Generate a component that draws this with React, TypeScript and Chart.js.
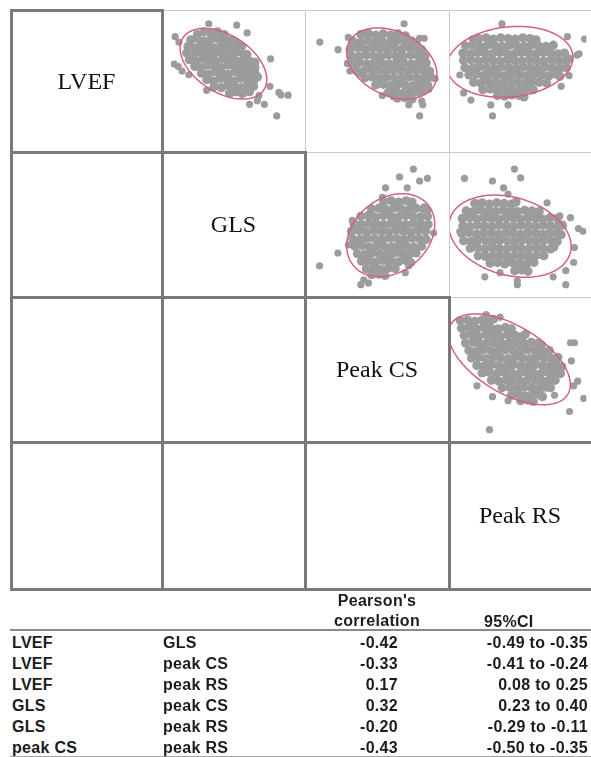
import React, { useEffect, useRef } from "react";
import { Chart, registerables } from "chart.js";
Chart.register(...registerables);

type Pt = [number, number];

// ---------- diagonal variable names ----------
const variableNames = ["LVEF", "GLS", "Peak CS", "Peak RS"];

// ---------- scatter data (standardised units, 0-100 per panel) ----------
const lvefVsGlsCore: Pt[] = [
  [23,85],[28,87],[33,86],[38,87],[43,85],
  [18,81],[23,82],[28,80],[33,81],[38,82],[43,80],[48,81],[52,79],
  [16,76],[21,75],[26,77],[31,76],[36,75],[41,77],[46,76],[51,75],[56,76],
  [15,71],[20,70],[25,72],[30,71],[35,70],[40,72],[45,71],[50,70],[55,72],[60,70],
  [17,66],[22,65],[27,67],[32,66],[37,65],[42,67],[47,66],[52,65],[57,66],[62,65],[66,64],
  [21,61],[26,60],[31,62],[36,61],[41,60],[46,62],[51,61],[56,60],[61,61],[66,60],
  [26,56],[31,55],[36,57],[41,56],[46,55],[51,57],[56,56],[61,55],[66,56],
  [30,51],[35,50],[40,52],[45,51],[50,50],[55,52],[60,51],[65,50],[68,53],
  [36,46],[41,45],[46,47],[51,46],[56,45],[61,47],[65,46],
  [47,41],[52,42],[57,41],[62,42]
];
const lvefVsGlsOut: Pt[] = [
  [6.4,83.4],[9.2,79.3],[31.5,93.1],[52.4,92],[60.2,86.2],[5.7,62.8],[8.7,60.9],[11.5,57.5],
  [16.6,54.7],[29.9,43],[34.5,44.8],[77.7,66.7],[77.2,46],[69,39],[67.8,35.2],[62,32.4],
  [73.1,32.4],[83.9,41.4],[85.5,39.5],[90.8,39.3],[82.3,23.7],[56.3,39.8],[48.3,40.7]
];

const lvefVsPeakCSCore: Pt[] = [
  [38,85],[43.5,86],[49,84.5],[54.5,85.5],[60,84.5],[65.5,85.5],[71,84],
  [32,80],[37.5,79],[43,80.5],[48.5,79.5],[54,80],[59.5,79],[65,80.5],[70.5,79.5],[76,80],[79,78],
  [30,74],[35.5,75],[41,74],[46.5,75],[52,74.5],[57.5,74],[63,75],[68.5,74],[74,75],[79.5,74.5],[83,73.5],
  [31,69],[36.5,68.5],[42,69.5],[47.5,69],[53,68.5],[58.5,69.5],[64,69],[69.5,68.5],[75,69.5],[80.5,69],[85.5,68.5],
  [31.5,63.5],[37,64],[42.5,63],[48,64],[53.5,63.5],[59,63],[64.5,64],[70,63.5],[75.5,63],[81,64],[86.5,63.5],
  [34.5,58],[40,57.5],[45.5,58.5],[51,58],[56.5,57.5],[62,58.5],[67.5,58],[73,57.5],[78.5,58.5],[84,58],[89,57.5],
  [41,52.5],[46.5,53],[52,52],[57.5,53],[63,52.5],[68.5,52],[74,53],[79.5,52.5],[85,52],[90,53],
  [49,47],[54.5,47.5],[60,46.5],[65.5,47.5],[71,47],[76.5,46.5],[82,47.5],[87.5,47],
  [58.5,41.5],[64,42],[69.5,41],[75,42],[80.5,41.5],[84,42.5],
  [65,37],[70.5,37.5],[76,36.5]
];
const lvefVsPeakCSOut: Pt[] = [
  [7.6,79.3],[21.1,73.6],[28,63.2],[29.9,57.5],[36.8,55.2],[70.1,93.1],[81.6,82.1],[85,82.1],
  [93.1,51.7],[88.5,43.7],[73.6,32.2],[83.2,34.9],[83.9,32.2],[81.6,23.7],[54,39.1],[62,38.4],[28.7,82.8]
];

const lvefVsPeakRSCore: Pt[] = [
  [19,82],[24.5,82.5],[30,81.5],[35.5,82.5],[41,82],[46.5,81.5],[52,82.5],[57.5,82],[62,81],
  [9,76.5],[14.5,77],[20,76],[25.5,77],[31,76.5],[36.5,76],[42,77],[47.5,76.5],[53,76],[58.5,77],[64,76.5],[69.5,76],[75,77],
  [7,71],[12.5,70.5],[18,71.5],[23.5,71],[29,70.5],[34.5,71.5],[40,71],[45.5,70.5],[51,71.5],[56.5,71],[62,70.5],[67.5,71.5],[73,71],[78.5,70.5],[83.5,71],
  [7.5,65.5],[13,66],[18.5,65],[24,66],[29.5,65.5],[35,65],[40.5,66],[46,65.5],[51.5,65],[57,66],[62.5,65.5],[68,65],[73.5,66],[79,65.5],[84.5,65],[87,66.5],
  [8.5,60],[14,59.5],[19.5,60.5],[25,60],[30.5,59.5],[36,60.5],[41.5,60],[47,59.5],[52.5,60.5],[58,60],[63.5,59.5],[69,60.5],[74.5,60],[80,59.5],[85,60],
  [11.5,54.5],[17,55],[22.5,54],[28,55],[33.5,54.5],[39,54],[44.5,55],[50,54.5],[55.5,54],[61,55],[66.5,54.5],[72,54],[77.5,55],[80,53.5],
  [15,49],[20.5,48.5],[26,49.5],[31.5,49],[37,48.5],[42.5,49.5],[48,49],[53.5,48.5],[59,49.5],[64.5,49],[70,48.5],
  [22,43.5],[27.5,44],[33,43],[38.5,44],[44,43.5],[49.5,43],[55,44],[60,43.5],
  [33,39],[38.5,38.5],[44,39.5],[49.5,39],[53,38]
];
const lvefVsPeakRSOut: Pt[] = [
  [36.4,93],[85.7,83.4],[98.6,81.6],[93,69.5],[94.5,70.5],[4.7,54.5],[13,35.6],[28,32],
  [41,32],[29.3,23.7],[81,46],[87,54],[7.5,41],[14,81.6]
];

const glsVsPeakCSCore: Pt[] = [
  [55,67],[60.5,67.5],[66,66.5],[71.5,67.5],[76,66.5],
  [46,61.5],[51.5,62],[57,61],[62.5,62],[68,61.5],[73.5,61],[79,62],[84.5,61.5],[87,60.5],
  [38,56],[43.5,56.5],[49,55.5],[54.5,56.5],[60,56],[65.5,55.5],[71,56.5],[76.5,56],[82,55.5],[87.5,56],
  [33,50.5],[38.5,50],[44,51],[49.5,50.5],[55,50],[60.5,51],[66,50.5],[71.5,50],[77,51],[82.5,50.5],[88,50],
  [31,45],[36.5,45.5],[42,44.5],[47.5,45.5],[53,45],[58.5,44.5],[64,45.5],[69.5,45],[75,44.5],[80.5,45.5],[86,45],
  [32,39.5],[37.5,39],[43,40],[48.5,39.5],[54,39],[59.5,40],[65,39.5],[70.5,39],[76,40],[81.5,39.5],[86.5,39],
  [33.5,34],[39,34.5],[44.5,33.5],[50,34.5],[55.5,34],[61,33.5],[66.5,34.5],[72,34],[77.5,33.5],[83,34],
  [35.5,28.5],[41,28],[46.5,29],[52,28.5],[57.5,28],[63,29],[68.5,28.5],[74,28],[79,29],
  [38.5,23],[44,23.5],[49.5,22.5],[55,23.5],[60.5,23],[66,22.5],[71.5,23.5],[75,22],
  [42,17.5],[47.5,18],[53,17],[58.5,18],[63.5,17.5],
  [46,13],[51.5,13.5],[56,12.5]
];
const glsVsPeakCSOut: Pt[] = [
  [77,90.8],[66.7,85],[81.6,82],[87.4,84],[56.3,77],[72.4,77],[54,70],[31.7,53],[28.7,35],
  [21,29],[7.4,19.5],[40.2,9.2],[43.7,6.9],[38,5.7],[92,43.7],[85,63],[71,14.5],[73.5,19.5]
];

const glsVsPeakRSCore: Pt[] = [
  [16,65.5],[21.5,66],[27,65],[32.5,66],[38,65.5],[43.5,65],[47,66.5],
  [9.5,60],[15,59.5],[20.5,60.5],[26,60],[31.5,59.5],[37,60.5],[42.5,60],[48,59.5],[53.5,60.5],[59,60],[64.5,59.5],
  [6.5,54.5],[12,55],[17.5,54],[23,55],[28.5,54.5],[34,54],[39.5,55],[45,54.5],[50.5,54],[56,55],[61.5,54.5],[67,54],[72.5,55],[78,54.5],
  [7,49],[12.5,48.5],[18,49.5],[23.5,49],[29,48.5],[34.5,49.5],[40,49],[45.5,48.5],[51,49.5],[56.5,49],[62,48.5],[67.5,49.5],[73,49],[78.5,48.5],[82,49.5],
  [6,43.5],[11.5,44],[17,43],[22.5,44],[28,43.5],[33.5,43],[39,44],[44.5,43.5],[50,43],[55.5,44],[61,43.5],[66.5,43],[72,44],[77.5,43.5],[81,42.5],
  [7.5,38],[13,37.5],[18.5,38.5],[24,38],[29.5,37.5],[35,38.5],[40.5,38],[46,37.5],[51.5,38.5],[57,38],[62.5,37.5],[68,38.5],[73.5,38],[78,37.5],
  [12.5,32.5],[18,33],[23.5,32],[29,33],[34.5,32.5],[40,32],[45.5,33],[51,32.5],[56.5,32],[62,33],[67.5,32.5],[73,32],[75.5,33.5],
  [18.5,27],[24,26.5],[29.5,27.5],[35,27],[40.5,26.5],[46,27.5],[51.5,27],[57,26.5],[62.5,27.5],[68,27],
  [27.5,21.5],[33,22],[38.5,21],[44,22],[49.5,21.5],[55,21],[60.5,22],
  [46,16],[51.5,16.5],[56,15.5]
];
const glsVsPeakRSOut: Pt[] = [
  [45.8,90.8],[50.5,84.4],[8.2,84],[29.3,82],[37.6,77],[41,72.4],[70.4,66],[80,56.3],[88,55],
  [94,47],[97.4,45],[91,33],[90.4,22],[84.5,16],[75,11.5],[84.5,5.7],[48,8.5],[48,5.7],
  [23.5,11.5],[35,14.5],[4.7,44.8]
];

const peakCSVsPeakRSCore: Pt[] = [
  [5,86],[10.5,86.5],[16,85.5],[21.5,86.5],[27,85.5],[30,87],
  [6,80.5],[11.5,81],[17,80],[22.5,81],[28,80.5],[33.5,80],[39,81],[43.5,80],
  [8,75],[13.5,75.5],[19,74.5],[24.5,75.5],[30,75],[35.5,74.5],[41,75.5],[46.5,75],[52,74.5],[54,76],
  [9,69.5],[14.5,70],[20,69],[25.5,70],[31,69.5],[36.5,69],[42,70],[47.5,69.5],[53,69],[58.5,70],[64,69.5],[66,68],
  [11.5,64],[17,63.5],[22.5,64.5],[28,64],[33.5,63.5],[39,64.5],[44.5,64],[50,63.5],[55.5,64.5],[61,64],[66.5,63.5],[72,64],
  [13.5,58.5],[19,59],[24.5,58],[30,59],[35.5,58.5],[41,58],[46.5,59],[52,58.5],[57.5,58],[63,59],[68.5,58.5],[74,58],[78.5,59],
  [17.5,53],[23,52.5],[28.5,53.5],[34,53],[39.5,52.5],[45,53.5],[50.5,53],[56,52.5],[61.5,53.5],[67,53],[72.5,52.5],[78,53],[81.5,52],
  [21.5,47.5],[27,48],[32.5,47],[38,48],[43.5,47.5],[49,47],[54.5,48],[60,47.5],[65.5,47],[71,48],[76.5,47.5],[80.5,47],
  [28.5,42],[34,41.5],[39.5,42.5],[45,42],[50.5,41.5],[56,42.5],[61.5,42],[67,41.5],[72.5,42.5],[76.5,42],
  [36.5,36.5],[42,37],[47.5,36],[53,37],[58.5,36.5],[64,36],[69.5,37],[73,36.5],
  [43.5,31],[49,31.5],[54.5,30.5],[60,31.5],[65.5,31],[67,30],
  [50.5,27],[56,27.5],[60,26.5]
];
const peakCSVsPeakRSOut: Pt[] = [
  [88,69.7],[91,69.7],[88.7,56.3],[93.4,41.4],[90.4,38],[98,28.7],[87.3,19],[27,5.7],
  [17.6,38],[29.3,30],[41,27],[65.7,32],[76,31],[24.6,90.5],[35,88.5]
];

// 95% ellipses: [centre x, centre y, semi-major, semi-minor, angle in degrees]
const ellipseLvefGls = [42.5, 63, 36, 21.5, -33];
const ellipseLvefPeakCS = [61, 63.2, 35.5, 24, -27];
const ellipseLvefPeakRS = [42.5, 64.4, 47.5, 26.4, 6];
const ellipseGlsPeakCS = [60.2, 42.1, 35.6, 27.1, 38];
const ellipseGlsPeakRS = [42.5, 41.4, 47, 28.7, -15];
const ellipsePeakCSPeakRS = [42, 57.5, 51, 25, -30];

// ---------- correlation table ----------
const tableVarA = ["LVEF", "LVEF", "LVEF", "GLS", "GLS", "peak CS"];
const tableVarB = ["GLS", "peak CS", "peak RS", "peak CS", "peak RS", "peak RS"];
const pearsonR = [-0.42, -0.33, 0.17, 0.32, -0.2, -0.43];
const ciLower = [-0.49, -0.41, 0.08, 0.23, -0.29, -0.5];
const ciUpper = [-0.35, -0.24, 0.25, 0.4, -0.11, -0.35];

// ---------- layout ----------
const colEdges = [11, 162, 305, 449, 593];
const rowEdges = [10, 152, 297, 442, 589];
const VIEW_W = 591;

const panels = [
  { row: 0, col: 1, core: lvefVsGlsCore, out: lvefVsGlsOut, ellipse: ellipseLvefGls },
  { row: 0, col: 2, core: lvefVsPeakCSCore, out: lvefVsPeakCSOut, ellipse: ellipseLvefPeakCS },
  { row: 0, col: 3, core: lvefVsPeakRSCore, out: lvefVsPeakRSOut, ellipse: ellipseLvefPeakRS },
  { row: 1, col: 2, core: glsVsPeakCSCore, out: glsVsPeakCSOut, ellipse: ellipseGlsPeakCS },
  { row: 1, col: 3, core: glsVsPeakRSCore, out: glsVsPeakRSOut, ellipse: ellipseGlsPeakRS },
  { row: 2, col: 3, core: peakCSVsPeakRSCore, out: peakCSVsPeakRSOut, ellipse: ellipsePeakCSPeakRS },
];

const ellipsePlugin = {
  id: "confEllipse",
  afterDatasetsDraw(chart: any, _args: any, opts: any) {
    const e = opts && opts.params;
    if (!e) return;
    const [cx, cy, a, b, deg] = e;
    const th = (deg * Math.PI) / 180;
    const xs = chart.scales.x;
    const ys = chart.scales.y;
    const ctx = chart.ctx as CanvasRenderingContext2D;
    ctx.save();
    ctx.beginPath();
    const n = 200;
    for (let i = 0; i <= n; i++) {
      const t = (i / n) * Math.PI * 2;
      const u = a * Math.cos(t);
      const v = b * Math.sin(t);
      const x = cx + u * Math.cos(th) - v * Math.sin(th);
      const y = cy + u * Math.sin(th) + v * Math.cos(th);
      const px = xs.getPixelForValue(x);
      const py = ys.getPixelForValue(y);
      if (i === 0) ctx.moveTo(px, py);
      else ctx.lineTo(px, py);
    }
    ctx.closePath();
    ctx.strokeStyle = opts.color;
    ctx.lineWidth = opts.width;
    ctx.stroke();
    ctx.restore();
  },
};

const DOT = "rgb(156,156,156)";

function ScatterPanel(props: { core: Pt[]; out: Pt[]; ellipse: number[]; left: number; top: number; width: number; height: number }) {
  const ref = useRef<HTMLCanvasElement>(null);
  const { core, out, ellipse, left, top, width, height } = props;
  useEffect(() => {
    if (!ref.current) return;
    const chart = new Chart(ref.current, {
      type: "scatter",
      data: {
        datasets: [
          {
            data: core.map(([x, y]) => ({ x, y })),
            backgroundColor: DOT,
            borderColor: DOT,
            borderWidth: 0,
            pointRadius: 4.6,
          },
          {
            data: out.map(([x, y]) => ({ x, y })),
            backgroundColor: DOT,
            borderColor: DOT,
            borderWidth: 0,
            pointRadius: 3.6,
          },
        ],
      },
      options: {
        animation: false,
        responsive: false,
        maintainAspectRatio: false,
        devicePixelRatio: 1,
        events: [],
        layout: { padding: 0 },
        plugins: {
          legend: { display: false },
          tooltip: { enabled: false },
          confEllipse: { params: ellipse, color: "rgb(214,96,124)", width: 1.5 },
        } as any,
        scales: {
          x: { type: "linear", min: 0, max: 100, display: false },
          y: { type: "linear", min: 0, max: 100, display: false },
        },
      },
      plugins: [ellipsePlugin as any],
    });
    return () => chart.destroy();
  }, []);
  return (
    <canvas
      ref={ref}
      width={width}
      height={height}
      style={{ position: "absolute", left, top, width, height }}
    />
  );
}

export default function App() {
  const thin = "#cbcbcb";
  const thick = "#7a7a7a";
  const cells: any[] = [];
  for (let r = 0; r < 4; r++) {
    for (let c = 0; c < 4; c++) {
      if (c > r) {
        const t = 1;
        cells.push(
          <div
            key={`u${r}${c}`}
            style={{
              position: "absolute",
              left: colEdges[c] - t / 2,
              top: rowEdges[r] - t / 2,
              width: colEdges[c + 1] - colEdges[c] + t,
              height: rowEdges[r + 1] - rowEdges[r] + t,
              border: `${t}px solid ${thin}`,
              boxSizing: "border-box",
            }}
          />
        );
      }
    }
  }
  for (let r = 0; r < 4; r++) {
    for (let c = 0; c < 4; c++) {
      if (c <= r) {
        const t = 3;
        cells.push(
          <div
            key={`l${r}${c}`}
            style={{
              position: "absolute",
              left: colEdges[c] - t / 2,
              top: rowEdges[r] - t / 2,
              width: colEdges[c + 1] - colEdges[c] + t,
              height: rowEdges[r + 1] - rowEdges[r] + t,
              border: `${t}px solid ${thick}`,
              boxSizing: "border-box",
            }}
          />
        );
      }
    }
  }

  const labels = variableNames.map((name, i) => (
    <div
      key={`lab${i}`}
      style={{
        position: "absolute",
        left: colEdges[i],
        top: rowEdges[i],
        width: Math.min(colEdges[i + 1], VIEW_W) - colEdges[i],
        height: rowEdges[i + 1] - rowEdges[i],
        display: "flex",
        alignItems: "center",
        justifyContent: "center",
        fontFamily: '"Liberation Serif", "Times New Roman", serif',
        fontSize: 24,
        color: "#111",
      }}
    >
      {name}
    </div>
  ));

  const sans = '"Liberation Sans", Arial, sans-serif';
  const txt = (key: string, text: string, style: any) => (
    <div
      key={key}
      style={{
        position: "absolute",
        fontFamily: sans,
        fontWeight: "bold",
        fontSize: 16,
        letterSpacing: "0.3px",
        lineHeight: "18px",
        color: "#1c1c1c",
        whiteSpace: "nowrap",
        ...style,
      }}
    >
      {text}
    </div>
  );

  const rowY0 = 642.5;
  const rowStep = 21.1;
  const tableRows: any[] = [];
  for (let i = 0; i < tableVarA.length; i++) {
    const top = rowY0 + i * rowStep - 9;
    tableRows.push(txt(`a${i}`, tableVarA[i], { left: 12, top }));
    tableRows.push(txt(`b${i}`, tableVarB[i], { left: 163, top }));
    tableRows.push(txt(`r${i}`, pearsonR[i].toFixed(2), { right: VIEW_W - 398, top }));
    tableRows.push(
      txt(`ci${i}`, `${ciLower[i].toFixed(2)} to ${ciUpper[i].toFixed(2)}`, { right: VIEW_W - 588, top })
    );
  }

  return (
    <div
      style={{
        position: "absolute",
        left: 0,
        top: 0,
        width: VIEW_W,
        height: 757,
        background: "#fff",
        overflow: "hidden",
      }}
    >
      {panels.map((p, i) => (
        <ScatterPanel
          key={`p${i}`}
          core={p.core}
          out={p.out}
          ellipse={p.ellipse}
          left={colEdges[p.col]}
          top={rowEdges[p.row]}
          width={Math.min(colEdges[p.col + 1], VIEW_W) - colEdges[p.col]}
          height={rowEdges[p.row + 1] - rowEdges[p.row]}
        />
      ))}
      {cells}
      {labels}
      {txt("h1", "Pearson's", { left: 322, width: 110, textAlign: "center", top: 592 })}
      {txt("h2", "correlation", { left: 322, width: 110, textAlign: "center", top: 612 })}
      {txt("h3", "95%CI", { left: 484, top: 613 })}
      <div style={{ position: "absolute", left: 10, top: 629, width: 581, height: 1.5, background: "#8a8a8a" }} />
      {tableRows}
      <div style={{ position: "absolute", left: 10, top: 755.5, width: 581, height: 1, background: "#a5a5a5" }} />
    </div>
  );
}
